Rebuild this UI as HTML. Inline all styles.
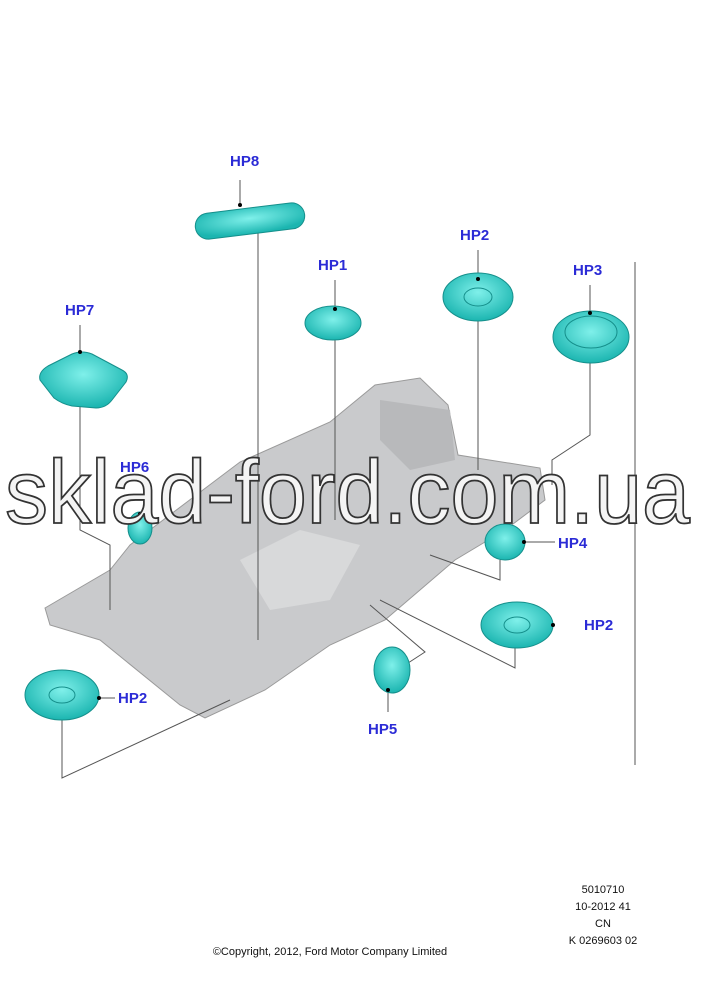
<!DOCTYPE html>
<html><head><meta charset="utf-8"><style>
body{margin:0;background:#fff}
svg{display:block}
.l{font:bold 15px "Liberation Sans",sans-serif;fill:#2b2bd6}
.s{font:11px "Liberation Sans",sans-serif;fill:#111}
</style></head><body>
<svg width="705" height="1000" viewBox="0 0 705 1000">
<defs>
<radialGradient id="t" cx="50%" cy="40%" r="60%"><stop offset="0" stop-color="#7ff0ea"/><stop offset="1" stop-color="#1bb5b0"/></radialGradient>
</defs>
<polygon points="45,608 110,570 130,545 240,462 330,422 375,385 420,378 448,405 458,455 540,468 545,500 505,530 455,560 420,590 385,620 330,645 265,690 205,718 180,705 100,640 50,625" fill="#c9cacc" stroke="#9a9a9a"/>
<polygon points="240,560 300,530 360,545 330,600 270,610" fill="#d8d9da"/>
<polygon points="380,400 450,410 455,460 410,470 380,440" fill="#b8b9bb"/>
<g stroke="#555" stroke-width="1" fill="none">
<line x1="258" y1="225" x2="258" y2="640"/>
<line x1="335" y1="325" x2="335" y2="520"/>
<line x1="478" y1="305" x2="478" y2="470"/>
<polyline points="590,355 590,435 552,460 552,485"/>
<line x1="635" y1="262" x2="635" y2="765"/>
<polyline points="80,405 80,530 110,545 110,610"/>
<polyline points="520,542 555,542"/>
<polyline points="500,560 500,580 430,555"/>
<polyline points="517,625 555,625"/>
<polyline points="515,640 515,668 380,600"/>
<polyline points="388,680 388,712"/>
<polyline points="405,665 425,652 370,605"/>
<polyline points="97,698 115,698"/>
<polyline points="62,712 62,778 230,700"/>
<line x1="240" y1="180" x2="240" y2="205"/>
<line x1="335" y1="280" x2="335" y2="310"/>
<line x1="478" y1="250" x2="478" y2="280"/>
<line x1="590" y1="285" x2="590" y2="315"/>
<line x1="80" y1="325" x2="80" y2="352"/>
</g>
<g stroke="#158f8b" stroke-width="1">
<rect x="195" y="208" width="110" height="26" rx="13" transform="rotate(-7 250 221)" fill="url(#t)"/>
<ellipse cx="333" cy="323" rx="28" ry="17" fill="url(#t)"/>
<ellipse cx="478" cy="297" rx="35" ry="24" fill="url(#t)"/><ellipse cx="478" cy="297" rx="14" ry="9" fill="none"/>
<ellipse cx="591" cy="337" rx="38" ry="26" fill="url(#t)"/><ellipse cx="591" cy="332" rx="26" ry="16" fill="none"/>
<path d="M40,380 Q38,372 48,366 L72,354 Q82,350 92,354 L122,370 Q130,374 126,382 L112,400 Q106,408 96,408 L72,406 Q62,404 54,398 Z" fill="url(#t)"/>
<ellipse cx="140" cy="528" rx="12" ry="16" fill="url(#t)"/>
<ellipse cx="505" cy="542" rx="20" ry="18" fill="url(#t)"/>
<ellipse cx="517" cy="625" rx="36" ry="23" fill="url(#t)"/><ellipse cx="517" cy="625" rx="13" ry="8" fill="none"/>
<ellipse cx="392" cy="670" rx="18" ry="23" fill="url(#t)"/>
<ellipse cx="62" cy="695" rx="37" ry="25" fill="url(#t)"/><ellipse cx="62" cy="695" rx="13" ry="8" fill="none"/>
</g>
<g fill="#000"><circle cx="240" cy="205" r="2"/><circle cx="335" cy="309" r="2"/><circle cx="478" cy="279" r="2"/><circle cx="590" cy="313" r="2"/><circle cx="80" cy="352" r="2"/><circle cx="140" cy="514" r="2"/><circle cx="524" cy="542" r="2"/><circle cx="553" cy="625" r="2"/><circle cx="99" cy="698" r="2"/><circle cx="388" cy="690" r="2"/></g>
<text x="5" y="523" textLength="685" lengthAdjust="spacingAndGlyphs" font-family="Liberation Sans,sans-serif" font-size="90" fill="#f4f4f4" stroke="#333" stroke-width="1.8">sklad-ford.com.ua</text>
<text class="l" x="230" y="166">HP8</text>
<text class="l" x="318" y="270">HP1</text>
<text class="l" x="460" y="240">HP2</text>
<text class="l" x="573" y="275">HP3</text>
<text class="l" x="65" y="315">HP7</text>
<text class="l" x="120" y="472">HP6</text>
<text class="l" x="558" y="548">HP4</text>
<text class="l" x="584" y="630">HP2</text>
<text class="l" x="118" y="703">HP2</text>
<text class="l" x="368" y="734">HP5</text>
<text class="s" x="603" y="893" text-anchor="middle">5010710</text>
<text class="s" x="603" y="910" text-anchor="middle">10-2012 41</text>
<text class="s" x="603" y="927" text-anchor="middle">CN</text>
<text class="s" x="603" y="944" text-anchor="middle">K 0269603 02</text>
<text class="s" x="330" y="955" text-anchor="middle">©Copyright, 2012, Ford Motor Company Limited</text>
</svg>
</body></html>
